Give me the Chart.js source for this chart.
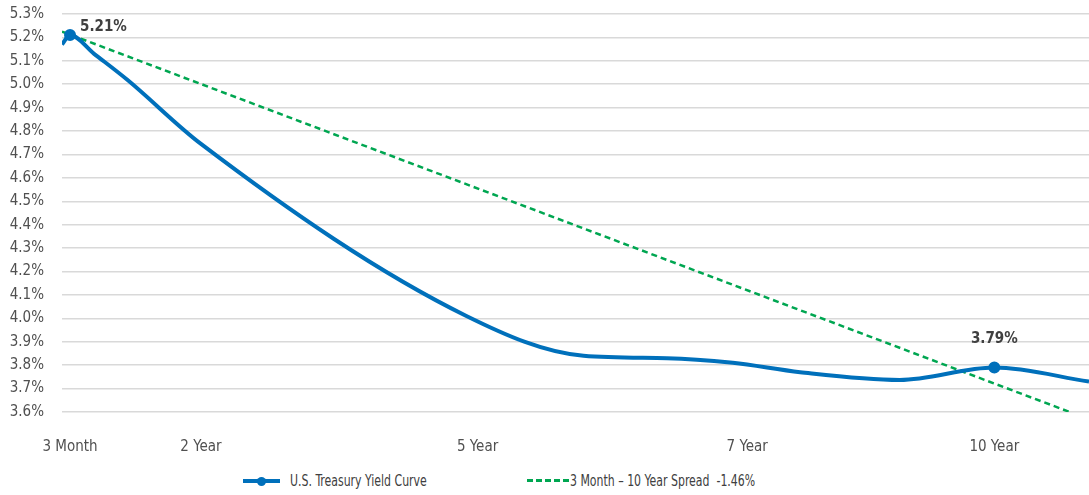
<!DOCTYPE html>
<html>
<head>
<meta charset="utf-8">
<script src="https://cdn.jsdelivr.net/npm/chart.js@4"></script>
<style>
  body { margin: 0; background: #fff; font-family: 'DejaVu Sans Condensed', sans-serif; }
  #wrap { position: relative; width: 1089px; height: 495px; }
  #chartBox { position: absolute; left: 0; top: 0; width: 1089px; height: 462px; }
  #legend { position: absolute; top: 471px; left: 0; width: 1089px; height: 20px; font-size: 16px; color: #404040; }
  .item { position: absolute; top: 0; height: 20px; line-height: 20px; white-space: nowrap; transform: scaleX(0.76); transform-origin: 0 50%; }
  .swatch { position: absolute; }
  .blue { left: 243px; width: 37px; height: 0; border-top: 4px solid #0070bb; top: 8px; }
  .blue::after { content: ''; position: absolute; left: 14px; top: -6px; width: 9px; height: 9px; border-radius: 50%; background: #0070bb; }
  .green { left: 527px; width: 42px; height: 0; border-top: 3px dashed #00a651; top: 8px; }
</style>
</head>
<body>
<div id="wrap">
  <div id="chartBox"><canvas id="myChart"></canvas></div>
  <div id="legend">
    <span class="swatch blue"></span>
    <span class="item" style="left:290px">U.S. Treasury Yield Curve</span>
    <span class="swatch green"></span>
    <span class="item" style="left:570px">3 Month – 10 Year Spread&nbsp; -1.46%</span>
  </div>
</div>
<script>
// x axis tenors (position on the maturity axis)
const tenorLabels = ['3 Month', '2 Year', '5 Year', '7 Year', '10 Year'];
const tenorPos = [0.5, 8.66, 25.9, 42.7, 58.1];

// yield curve
const curvePos = [0, 0.5, 2.0, 4.05, 8.66, 25.2, 32.5, 37.7, 41.8, 46.0, 52.2, 58.1, 64];
const curveYield = [5.17, 5.21, 5.13, 5.02, 4.745, 4.01, 3.84, 3.83, 3.81, 3.77, 3.737, 3.79, 3.73];
const labelledIdx = [1, 11];  // 3 Month, 10 Year

// 3M - 10Y spread line
const spreadPos = [0, 62.8];
const spreadYield = [5.225, 3.60];

// y axis
const yMin = 3.6;
const yMax = 5.3;
const yStep = 0.1;

const FONT = "'DejaVu Sans Condensed', sans-serif";
const BLUE = '#0070bb';
const GREEN = '#00a651';

const toXY = (xs, ys) => xs.map((x, i) => ({ x: x, y: ys[i] }));

// value labels next to the marked points
const valueLabels = {
  id: 'valueLabels',
  afterDatasetsDraw(chart, args, opts) {
    const meta = chart.getDatasetMeta(0);
    const ctx = chart.ctx;
    ctx.save();
    ctx.font = 'bold 15px ' + FONT;
    ctx.fillStyle = '#404040';
    ctx.textBaseline = 'middle';
    labelledIdx.forEach((idx, n) => {
      const pt = meta.data[idx];
      const off = opts.offsets[n];
      ctx.textAlign = off.align;
      const txt = curveYield[idx].toFixed(2) + '%';
      ctx.fillText(txt, pt.x + off.dx, pt.y + off.dy);
    });
    ctx.restore();
  }
};

const config = {
  type: 'line',
  data: {
    datasets: [
      {
        label: 'U.S. Treasury Yield Curve',
        data: toXY(curvePos, curveYield),
        borderColor: BLUE,
        backgroundColor: BLUE,
        borderWidth: 4,
        cubicInterpolationMode: 'monotone',
        pointRadius: (c) => labelledIdx.includes(c.dataIndex) ? 4 : 0,
        pointHoverRadius: 0,
        order: 1
      },
      {
        label: '3 Month – 10 Year Spread -1.46%',
        data: toXY(spreadPos, spreadYield),
        borderColor: GREEN,
        borderWidth: 2.5,
        borderDash: [6, 4],
        pointRadius: 0,
        order: 2
      }
    ]
  },
  options: {
    responsive: true,
    maintainAspectRatio: false,
    animation: false,
    layout: { padding: { top: 14, right: 0, left: 0, bottom: 0 } },
    plugins: {
      legend: { display: false },
      tooltip: { enabled: false },
      valueLabels: {
        offsets: [
          { dx: 10, dy: -8, align: 'left' },
          { dx: 0, dy: -28, align: 'center' }
        ]
      }
    },
    scales: {
      x: {
        type: 'linear',
        min: 0,
        max: 64,
        grid: { display: false },
        border: { display: false },
        afterBuildTicks: (scale) => {
          scale.ticks = tenorPos.map((v) => ({ value: v }));
        },
        afterFit: (scale) => { scale.height = 50; },
        ticks: {
          autoSkip: false,
          maxRotation: 0,
          padding: 18,
          color: '#505050',
          font: { family: FONT, size: 15 },
          callback: (v, i) => tenorLabels[i]
        }
      },
      y: {
        min: yMin,
        max: yMax,
        grid: { color: '#d9d9d9', lineWidth: 1.5, drawTicks: false },
        border: { display: false },
        afterFit: (scale) => {
          scale.width = 62;
          scale.paddingTop = 8;
          scale.paddingBottom = 8;
        },
        ticks: {
          stepSize: yStep,
          padding: 18,
          color: '#505050',
          font: { family: FONT, size: 15 },
          callback: (v) => Number(v).toFixed(1) + '%'
        }
      }
    }
  },
  plugins: [valueLabels]
};

const myChart = new Chart(document.getElementById('myChart'), config);
</script>
</body>
</html>
